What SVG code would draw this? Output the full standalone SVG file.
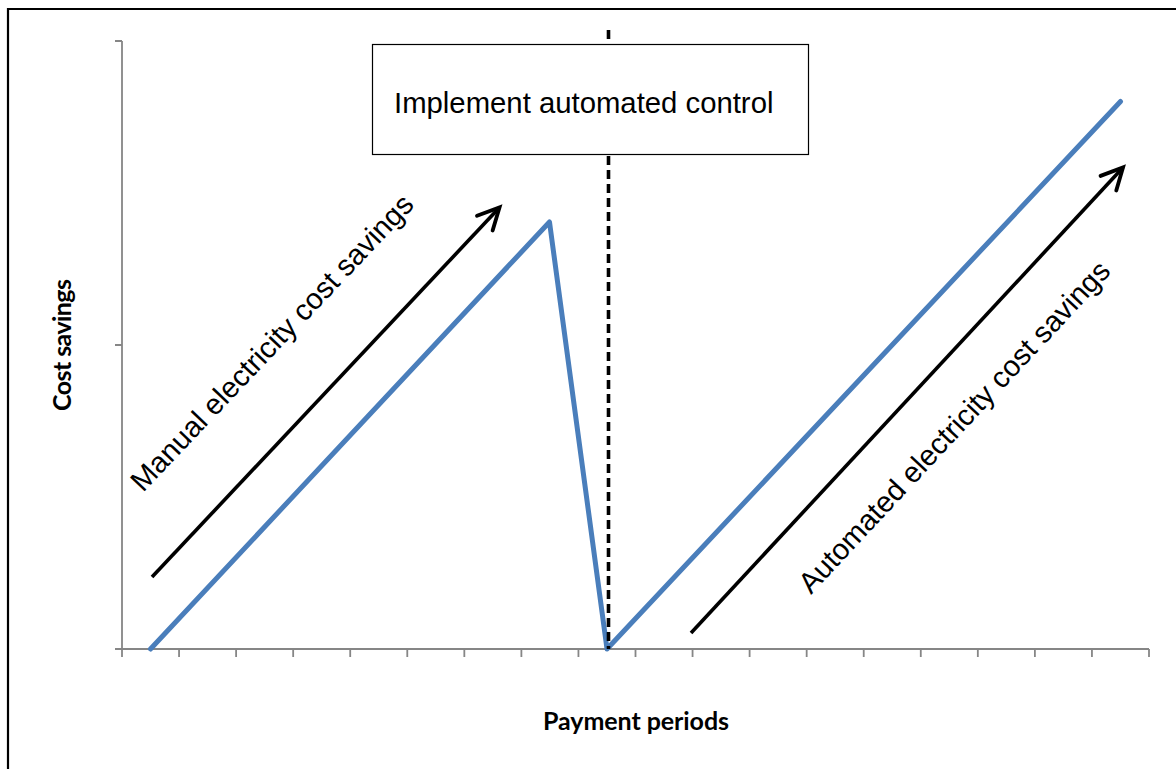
<svg xmlns="http://www.w3.org/2000/svg" width="1176" height="769" viewBox="0 0 1176 769">
  <style>
    .axis { stroke: #868686; stroke-width: 1.8; fill: none; }
    .series { stroke: #4A7EBB; stroke-width: 5; fill: none; stroke-linejoin: round; stroke-linecap: round; }
    .arrow { stroke: #000; stroke-width: 3.6; fill: none; marker-end: url(#openHead); }
    .diag { font-family: "Liberation Sans", Arial, sans-serif; font-size: 29.3px; fill: #000; }
    .axisTitle { font-family: Lato, "Open Sans", sans-serif; font-weight: bold; font-size: 25px; fill: #000; }
  </style>
  <defs>
    <marker id="openHead" markerUnits="userSpaceOnUse" markerWidth="30" markerHeight="30" viewBox="-24 -14 28 28" refX="0" refY="0" orient="auto">
      <path d="M-20,-10 L0,0 L-20,10" stroke="#000" stroke-width="3.6" fill="none" stroke-linecap="round" stroke-linejoin="miter"/>
    </marker>
  </defs>

  <rect x="0" y="0" width="1176" height="769" fill="#fff"/>

  <!-- outer frame (top and left edges) -->
  <path d="M8,769 V9 H1176" stroke="#000" stroke-width="2.2" fill="none"/>

  <!-- chart axes -->
  <g id="axes">
    <path class="axis" d="M122,41 V649 M115,41 H122 M115,345 H122 M115,649 H1149"/>
    <path class="axis" d="M122,649 v8 M179.06,649 v8 M236.11,649 v8 M293.17,649 v8 M350.22,649 v8 M407.28,649 v8 M464.33,649 v8 M521.39,649 v8 M578.44,649 v8 M635.5,649 v8 M692.56,649 v8 M749.61,649 v8 M806.67,649 v8 M863.72,649 v8 M920.78,649 v8 M977.83,649 v8 M1034.89,649 v8 M1091.94,649 v8 M1149,649 v8"/>
  </g>

  <!-- cost savings series -->
  <g id="savings-series">
    <polyline class="series" points="150.5,649 549.5,222 607,649 1120.5,101.5"/>
  </g>

  <!-- switch-over marker -->
  <g id="switch-line">
    <line x1="608.5" y1="30" x2="608.5" y2="649" stroke="#000" stroke-width="3.6" stroke-dasharray="9,5"/>
  </g>

  <g id="implement-box">
    <rect x="372.5" y="44.5" width="436" height="110" fill="#fff" stroke="#000" stroke-width="1.2"/>
    <text class="diag" x="394" y="113">Implement automated control</text>
  </g>

  <!-- trend arrows -->
  <g id="connectors">
    <line class="arrow" x1="152" y1="577" x2="499.5" y2="207.5"/>
    <line class="arrow" x1="691" y1="633" x2="1123" y2="167.5"/>
  </g>

  <g id="manual-label">
    <text class="diag" transform="translate(143,493) rotate(-46.5)">Manual electricity cost savings</text>
  </g>

  <g id="automated-label">
    <text class="diag" transform="translate(811,595) rotate(-47)">Automated electricity cost savings</text>
  </g>

  <g id="y-title">
    <text class="axisTitle" text-anchor="middle" transform="translate(71,345) rotate(-90)" textLength="132">Cost savings</text>
  </g>

  <g id="x-title">
    <text class="axisTitle" text-anchor="middle" x="636" y="730" textLength="186">Payment periods</text>
  </g>
</svg>
